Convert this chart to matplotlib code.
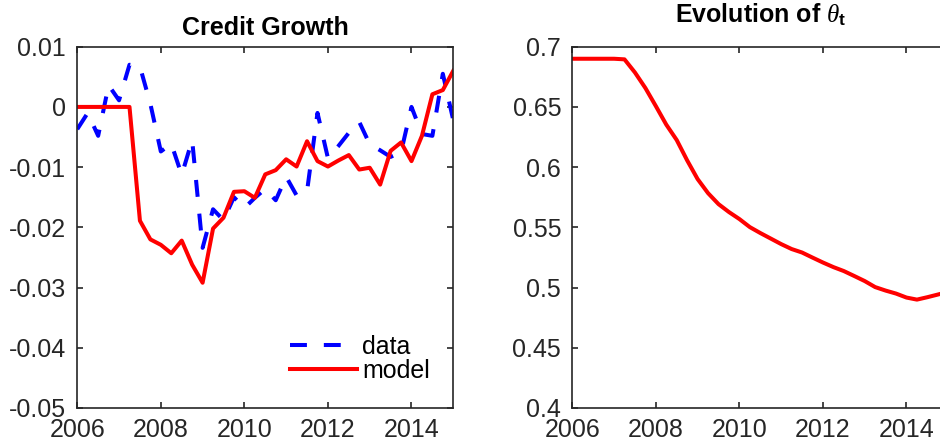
import numpy as np
import matplotlib
matplotlib.use("Agg")
import matplotlib.pyplot as plt

plt.rcParams['font.family'] = ['Liberation Sans', 'DejaVu Sans']
plt.rcParams['axes.unicode_minus'] = False
plt.rcParams['mathtext.fontset'] = 'custom'
plt.rcParams['mathtext.rm'] = 'Liberation Sans'
plt.rcParams['mathtext.it'] = 'Liberation Serif:italic'
plt.rcParams['mathtext.bf'] = 'Liberation Sans:bold'

# quarterly dates 2006Q1 .. 2015Q1
dates = [2006.00, 2006.25, 2006.50, 2006.75, 2007.00, 2007.25, 2007.50, 2007.75,
         2008.00, 2008.25, 2008.50, 2008.75, 2009.00, 2009.25, 2009.50, 2009.75,
         2010.00, 2010.25, 2010.50, 2010.75, 2011.00, 2011.25, 2011.50, 2011.75,
         2012.00, 2012.25, 2012.50, 2012.75, 2013.00, 2013.25, 2013.50, 2013.75,
         2014.00, 2014.25, 2014.50, 2014.75, 2015.00]

credit_data = [-0.0037, -0.0010, -0.0048, 0.0036, 0.0011, 0.0070, 0.0067, 0.0005,
               -0.0074, -0.0061, -0.0113, -0.0055, -0.0234, -0.0170, -0.0188, -0.0150,
               -0.0168, -0.0151, -0.0136, -0.0155, -0.0116, -0.0147, -0.0140, -0.0010,
               -0.0085, -0.0065, -0.0043, -0.0025, -0.0062, -0.0072, -0.0083, -0.0075,
               0.0000, -0.0045, -0.0048, 0.0055, -0.0022]

credit_model = [0.0, 0.0, 0.0, 0.0, 0.0, 0.0, -0.0189, -0.0220,
                -0.0229, -0.0243, -0.0222, -0.0262, -0.0292, -0.0202, -0.0184, -0.0141,
                -0.0140, -0.0151, -0.0112, -0.0105, -0.0087, -0.0099, -0.0057, -0.0090,
                -0.0099, -0.0089, -0.0080, -0.0104, -0.0101, -0.0129, -0.0073, -0.0059,
                -0.0090, -0.0048, 0.0021, 0.0028, 0.0060]

theta = [0.690, 0.690, 0.690, 0.690, 0.690, 0.6895, 0.6786, 0.6657,
         0.6507, 0.6353, 0.6225, 0.6056, 0.5901, 0.5784, 0.5693, 0.5627,
         0.5569, 0.5502, 0.5453, 0.5407, 0.5361, 0.5320, 0.5291, 0.5249,
         0.5208, 0.5170, 0.5137, 0.5096, 0.5054, 0.5004, 0.4975, 0.4950,
         0.4917, 0.4900, 0.4920, 0.4942, 0.4965]

xticks = [2006, 2008, 2010, 2012, 2014]
left_yticks = [-0.05, -0.04, -0.03, -0.02, -0.01, 0, 0.01]
left_ylabels = ['-0.05', '-0.04', '-0.03', '-0.02', '-0.01', '0', '0.01']
right_yticks = [0.4, 0.45, 0.5, 0.55, 0.6, 0.65, 0.7]
right_ylabels = ['0.4', '0.45', '0.5', '0.55', '0.6', '0.65', '0.7']

axcol = '#262626'
fs = 18

fig = plt.figure(figsize=(9.4, 4.44), dpi=100)
ax1 = fig.add_axes([0.0822, 0.0811, 0.40, 0.8137])
ax2 = fig.add_axes([0.6088, 0.0811, 0.40, 0.8137])


def style(ax):
    for s in ax.spines.values():
        s.set_color(axcol)
        s.set_linewidth(1.2)
    ax.tick_params(direction='in', length=4.3, width=1.2, colors=axcol,
                   labelsize=fs, top=True, right=True, labelcolor=axcol)
    ax.tick_params(axis='y', pad=8)
    ax.tick_params(axis='x', pad=7)
    ax.set_xlim(2006, 2015)
    ax.set_xticks(xticks)
    ax.set_xticklabels([str(t) for t in xticks])


ax1.plot(dates, credit_data, color='#0000ff', lw=2.9, linestyle=(0, (4.2, 4.2)),
         label='data')
ax1.plot(dates, credit_model, color='#ff0000', lw=2.9, label='model')
style(ax1)
ax1.set_ylim(-0.05, 0.01)
ax1.set_yticks(left_yticks)
ax1.set_yticklabels(left_ylabels)
ax1.set_title('Credit Growth', fontsize=fs, fontweight='bold', pad=8.4)
ax1.legend(loc='lower left', bbox_to_anchor=(0.566, 0.07), frameon=False,
           fontsize=fs, handlelength=2.67, handletextpad=0.2, labelspacing=0.0,
           borderpad=0, borderaxespad=0)

ax2.plot(dates, theta, color='#ff0000', lw=2.9)
style(ax2)
ax2.set_ylim(0.4, 0.7)
ax2.set_yticks(right_yticks)
ax2.set_yticklabels(right_ylabels)
ax2.set_title(r'Evolution of $\theta_{\mathbf{t}}$', fontsize=fs, fontweight='bold',
              pad=17.8)

fig.savefig('out.png', dpi=100)
